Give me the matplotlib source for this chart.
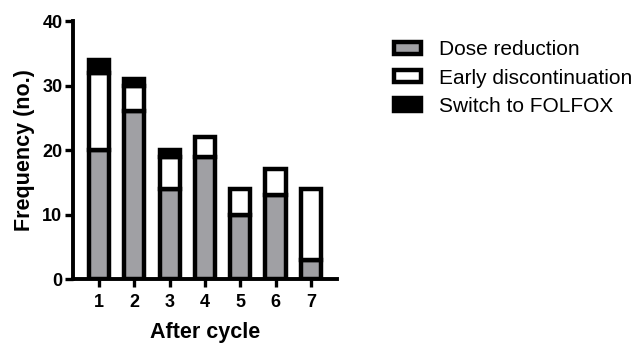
import matplotlib
matplotlib.use("Agg")
import matplotlib.pyplot as plt
from matplotlib.patches import Patch
import numpy as np

plt.rcParams['font.family'] = ['Liberation Sans', 'DejaVu Sans']

cycles = [1, 2, 3, 4, 5, 6, 7]
dose_reduction = [20, 26, 14, 19, 10, 13, 3]
early_discontinuation = [12, 4, 5, 3, 4, 4, 11]
switch_folfox = [2, 1, 1, 0, 0, 0, 0]
series_names = ["Dose reduction", "Early discontinuation", "Switch to FOLFOX"]
colors = ["#a0a0a4", "#ffffff", "#000000"]

fig = plt.figure(figsize=(6.34, 3.46), dpi=100)
ax = fig.add_axes([0.115, 0.1936, 0.4165, 0.745])

x = np.array(cycles)
w = 0.57
lw = 3.2
bottom = np.zeros(len(cycles))
for vals, c in zip([dose_reduction, early_discontinuation, switch_folfox], colors):
    v = np.array(vals, dtype=float)
    mask = v > 0
    ax.bar(x[mask], v[mask], width=w, bottom=bottom[mask], color=c,
           edgecolor="black", linewidth=lw, zorder=2)
    bottom += v

ax.set_xlim(0.26, 7.74)
ax.set_ylim(0, 40)
ax.set_yticks([0, 10, 20, 30, 40])
ax.set_xticks(cycles)
for s in ["top", "right"]:
    ax.spines[s].set_visible(False)
for s in ["left", "bottom"]:
    ax.spines[s].set_linewidth(2.8)
ax.tick_params(axis="both", width=2.4, length=6, labelsize=13)
ax.tick_params(axis="x", pad=5)
ax.tick_params(axis="y", pad=1.5)
for lab in ax.get_xticklabels() + ax.get_yticklabels():
    lab.set_fontweight("bold")
ax.set_xlabel("After cycle", fontsize=15.5, fontweight="bold", labelpad=8)
ax.set_ylabel("Frequency (no.)", fontsize=15.5, fontweight="bold", labelpad=5)

handles = [Patch(facecolor=c, edgecolor="black", linewidth=lw) for c in colors]
fig.legend(handles, series_names, loc="upper left", bbox_to_anchor=(0.592, 0.938),
           frameon=False, fontsize=15, handlelength=1.3, handleheight=0.55,
           handletextpad=0.85, labelspacing=0.45)

fig.savefig("out.png", dpi=100)
